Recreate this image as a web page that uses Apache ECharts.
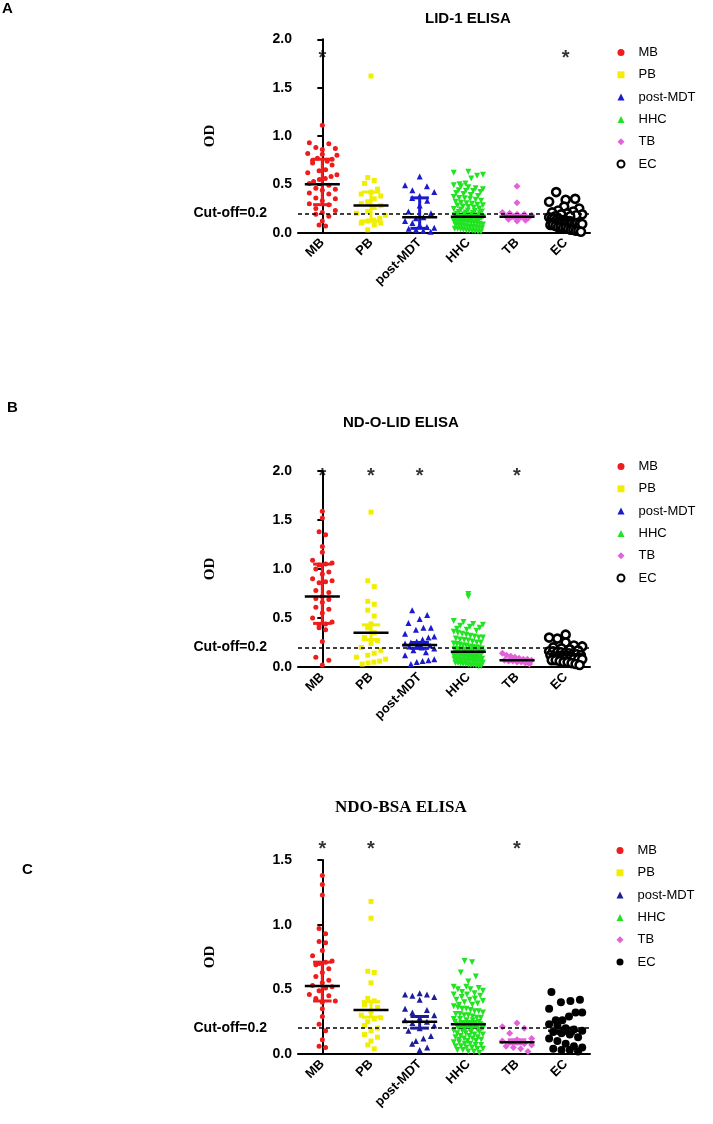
<!DOCTYPE html>
<html>
<head>
<meta charset="utf-8">
<script src="https://cdn.jsdelivr.net/npm/echarts@6/dist/echarts.min.js"></script>
<style>
html,body{margin:0;padding:0;background:#fff;}
#chart{width:713px;height:1124px;}
</style>
</head>
<body>
<div id="chart"></div>
<script>
// ---------------- data ----------------
const categories = ['MB', 'PB', 'post-MDT', 'HHC', 'TB', 'EC'];
const cutoff = 0.2;

// Panel A : LID-1 ELISA
const lidMB = [1.11,0.93,0.92,0.88,0.87,0.86,0.82,0.81,0.80,0.77,0.76,0.75,0.74,0.72,0.70,0.65,0.64,0.62,0.60,0.58,0.56,0.55,0.53,0.51,0.49,0.46,0.45,0.44,0.41,0.40,0.36,0.35,0.33,0.30,0.29,0.25,0.23,0.21,0.19,0.17,0.12,0.08,0.07];
const lidPB = [1.62,0.57,0.54,0.51,0.45,0.42,0.40,0.38,0.35,0.32,0.30,0.28,0.26,0.22,0.20,0.18,0.15,0.13,0.12,0.11,0.10,0.10,0.08,0.03];
const lidPost = [0.58,0.49,0.48,0.44,0.42,0.38,0.36,0.33,0.28,0.22,0.20,0.16,0.15,0.12,0.10,0.08,0.06,0.05,0.04,0.03,0.02,0.01];
const lidHHC = [0.63,0.62,0.60,0.59,0.56,0.51,0.50,0.49,0.48,0.47,0.46,0.45,0.44,0.435,0.43,0.42,0.41,0.40,0.39,0.38,0.37,0.36,0.355,0.35,0.34,0.33,0.32,0.31,0.305,0.30,0.29,0.285,0.28,0.27,0.265,0.26,0.25,0.245,0.24,0.23,0.225,0.22,0.215,0.21,0.205,0.20,0.195,0.19,0.185,0.18,0.18,0.175,0.17,0.17,0.165,0.16,0.16,0.155,0.15,0.15,0.145,0.14,0.14,0.135,0.13,0.13,0.125,0.12,0.12,0.115,0.11,0.11,0.105,0.10,0.10,0.095,0.09,0.085,0.08,0.08,0.075,0.07,0.065,0.06,0.06,0.055,0.05,0.045,0.04,0.04,0.035,0.03,0.025,0.02,0.02,0.015,0.01,0.01];
const lidTB = [0.48,0.31,0.21,0.20,0.19,0.19,0.18,0.17,0.17,0.16,0.15,0.14,0.13,0.12];
const lidEC = [0.42,0.35,0.34,0.32,0.27,0.25,0.23,0.22,0.21,0.20,0.19,0.19,0.18,0.17,0.17,0.16,0.15,0.15,0.14,0.14,0.13,0.13,0.12,0.12,0.11,0.10,0.10,0.09,0.09,0.08,0.08,0.07,0.06,0.06,0.05,0.05,0.04,0.03,0.03,0.02,0.02,0.01];
const lidMedian = [0.50, 0.28, 0.16, 0.165, 0.165, 0.14];
const lidLow    = [0.29, 0.12, 0.045, 0.15, 0.15, 0.13];
const lidHigh   = [0.76, 0.42, 0.36, 0.18, 0.18, 0.15];
const lidStars  = ['MB', 'EC'];

// Panel B : ND-O-LID ELISA
const ndoMB = [1.59,1.52,1.38,1.35,1.23,1.17,1.09,1.06,1.05,1.04,1.00,0.97,0.95,0.90,0.88,0.87,0.86,0.78,0.76,0.72,0.70,0.69,0.66,0.61,0.59,0.55,0.50,0.46,0.44,0.43,0.40,0.38,0.26,0.10,0.07,0.02];
const ndoPB = [1.58,0.88,0.82,0.67,0.64,0.58,0.52,0.44,0.40,0.35,0.30,0.27,0.24,0.20,0.17,0.14,0.12,0.10,0.08,0.06,0.05,0.04,0.03];
const ndoPost = [0.58,0.53,0.49,0.45,0.40,0.40,0.38,0.34,0.31,0.30,0.28,0.26,0.25,0.24,0.23,0.22,0.21,0.20,0.19,0.17,0.15,0.12,0.08,0.07,0.06,0.05,0.03];
const ndoHHC = [0.745,0.72,0.47,0.46,0.44,0.43,0.42,0.41,0.40,0.39,0.38,0.37,0.36,0.35,0.34,0.33,0.32,0.31,0.30,0.30,0.29,0.28,0.275,0.27,0.26,0.25,0.25,0.24,0.235,0.23,0.22,0.22,0.21,0.205,0.20,0.20,0.19,0.185,0.18,0.18,0.175,0.17,0.17,0.165,0.16,0.16,0.155,0.15,0.15,0.145,0.14,0.14,0.135,0.13,0.13,0.125,0.12,0.12,0.115,0.11,0.11,0.105,0.10,0.10,0.095,0.09,0.09,0.085,0.08,0.08,0.075,0.07,0.07,0.065,0.06,0.06,0.055,0.05,0.05,0.045,0.04,0.04,0.035,0.03,0.03,0.025,0.02,0.02,0.015,0.01,0.01];
const ndoTB = [0.14,0.12,0.11,0.10,0.09,0.08,0.08,0.07,0.07,0.06,0.06,0.05,0.05,0.04,0.03];
const ndoEC = [0.33,0.30,0.29,0.25,0.22,0.21,0.20,0.19,0.18,0.17,0.16,0.16,0.15,0.15,0.14,0.14,0.13,0.13,0.12,0.12,0.11,0.11,0.10,0.10,0.09,0.09,0.08,0.08,0.07,0.07,0.06,0.05,0.05,0.04,0.03,0.02];
const ndoMedian = [0.72, 0.35, 0.225, 0.156, 0.07, 0.13];
const ndoLow    = [0.445, 0.28, 0.19, 0.14, 0.06, 0.12];
const ndoHigh   = [1.05, 0.43, 0.25, 0.17, 0.08, 0.15];
const ndoStars  = ['MB', 'PB', 'post-MDT', 'TB'];

// Panel C : NDO-BSA ELISA
const bsaMB = [1.38,1.31,1.23,0.97,0.93,0.87,0.86,0.80,0.76,0.72,0.71,0.70,0.69,0.66,0.63,0.60,0.57,0.55,0.53,0.52,0.51,0.49,0.46,0.45,0.43,0.41,0.40,0.35,0.29,0.23,0.18,0.11,0.06,0.05];
const bsaPB = [1.18,1.05,0.64,0.63,0.55,0.43,0.41,0.38,0.36,0.33,0.30,0.28,0.27,0.25,0.22,0.20,0.18,0.15,0.13,0.10,0.07,0.04];
const bsaPost = [0.47,0.46,0.46,0.45,0.44,0.42,0.35,0.34,0.32,0.30,0.28,0.26,0.25,0.24,0.22,0.20,0.18,0.14,0.12,0.10,0.08,0.05,0.03];
const bsaHHC = [0.72,0.71,0.63,0.60,0.56,0.52,0.52,0.51,0.50,0.50,0.49,0.48,0.47,0.46,0.46,0.45,0.44,0.43,0.42,0.42,0.41,0.40,0.39,0.38,0.38,0.37,0.36,0.35,0.35,0.34,0.33,0.33,0.32,0.31,0.31,0.30,0.30,0.29,0.28,0.28,0.27,0.27,0.26,0.26,0.25,0.25,0.24,0.24,0.24,0.23,0.23,0.23,0.22,0.22,0.22,0.21,0.21,0.21,0.20,0.20,0.20,0.19,0.19,0.19,0.18,0.18,0.17,0.17,0.16,0.16,0.15,0.15,0.14,0.14,0.13,0.13,0.12,0.12,0.11,0.11,0.10,0.10,0.09,0.09,0.08,0.08,0.07,0.07,0.06,0.06,0.05,0.05,0.04,0.04,0.03,0.03,0.02,0.02,0.01];
const bsaTB = [0.24,0.21,0.20,0.16,0.12,0.11,0.10,0.09,0.09,0.08,0.07,0.06,0.05,0.04,0.02];
const bsaEC = [0.48,0.42,0.41,0.40,0.35,0.32,0.32,0.29,0.26,0.26,0.23,0.22,0.20,0.19,0.18,0.17,0.16,0.15,0.13,0.12,0.10,0.08,0.06,0.05,0.04,0.03,0.03,0.02];
const bsaMedian = [0.525, 0.34, 0.25, 0.23, 0.09, 0.18];
const bsaLow    = [0.41, 0.285, 0.20, 0.21, 0.08, 0.16];
const bsaHigh   = [0.71, 0.405, 0.29, 0.25, 0.11, 0.20];
const bsaStars  = ['MB', 'PB', 'TB'];

// ---------------- layout & style ----------------
const SANS = 'Liberation Sans, Arial, sans-serif';
const SERIF = 'Liberation Serif, Times New Roman, serif';
const GRID_LEFT = 298, GRID_WIDTH = 292;

const panels = [
  { key: 'A', title: 'LID-1 ELISA', titleFont: SANS, titleSize: 15, titleLeft: 425, titleTop: 11,
    top: 39.3, height: 193.4, ymax: 2, starY: 1.80, legendTop: 45,
    letterX: 2, letterY: 1, ecRing: true, postColor: '#1a1ad0',
    groups: [lidMB, lidPB, lidPost, lidHHC, lidTB, lidEC],
    median: lidMedian, low: lidLow, high: lidHigh, stars: lidStars },
  { key: 'B', title: 'ND-O-LID ELISA', titleFont: SANS, titleSize: 15, titleLeft: 343, titleTop: 415,
    top: 471, height: 196, ymax: 2, starY: 1.94, legendTop: 459,
    letterX: 7, letterY: 400, ecRing: true, postColor: '#1a1ad0',
    groups: [ndoMB, ndoPB, ndoPost, ndoHHC, ndoTB, ndoEC],
    median: ndoMedian, low: ndoLow, high: ndoHigh, stars: ndoStars },
  { key: 'C', title: 'NDO-BSA ELISA', titleFont: SERIF, titleSize: 17, titleLeft: 335, titleTop: 799,
    top: 860, height: 194, ymax: 1.5, starY: 1.585, legendTop: 843,
    letterX: 22, letterY: 862, ecRing: false, postColor: '#1c1c9c',
    groups: [bsaMB, bsaPB, bsaPost, bsaHHC, bsaTB, bsaEC],
    median: bsaMedian, low: bsaLow, high: bsaHigh, stars: bsaStars }
];

const baseColors = ['#ee1c1c', '#f2ee00', '#1a1ad0', '#22e322', '#e063d8', '#000000'];
const symbols = ['circle', 'rect', 'triangle', 'triangle', 'diamond', 'circle'];
const rotations = [0, 0, 0, 180, 0, 0];
const sizes = [5, 5, 6, 6, 7, 8];

function gcd(a, b) { return b ? gcd(b, a % b) : a; }

// beeswarm-style horizontal spreading computed from the values
function swarm(vals, binVal, dx, maxHalf) {
  const bins = new Map();
  vals.forEach(v => {
    const b = Math.floor(v / binVal);
    if (!bins.has(b)) bins.set(b, []);
    bins.get(b).push(v);
  });
  const out = [];
  bins.forEach(arr => {
    const n = arr.length;
    let step = dx;
    if (n > 1 && (n - 1) / 2 * step > maxHalf) step = maxHalf * 2 / (n - 1);
    const perm = [3, 2, 5, 7, 11].find(s => gcd(s, n) === 1) || 1;
    arr.forEach((v, k) => {
      const slot = (k * perm) % n;
      out.push([(slot - (n - 1) / 2) * step, v]);
    });
  });
  return out;
}

const option = {
  animation: false,
  backgroundColor: '#fff',
  title: [], grid: [], xAxis: [], yAxis: [], legend: [], series: [], graphic: []
};

panels.forEach((p, g) => {
  const colors = baseColors.slice();
  colors[2] = p.postColor;
  const pxPerUnit = p.height / p.ymax;
  const pxPerCat = GRID_WIDTH / categories.length;

  option.title.push({
    text: p.title, left: p.titleLeft, top: p.titleTop, padding: 0,
    textStyle: { fontFamily: p.titleFont, fontSize: p.titleSize, fontWeight: 'bold', color: '#000' }
  });
  option.graphic.push({
    type: 'text', left: p.letterX, top: p.letterY,
    style: { text: p.key, font: 'bold 15px ' + SANS, fill: '#000' }
  });
  option.grid.push({ left: GRID_LEFT, top: p.top, width: GRID_WIDTH, height: p.height, containLabel: false });

  option.xAxis.push({
    type: 'category', gridIndex: g, data: categories, boundaryGap: true,
    axisLine: { lineStyle: { color: '#000', width: 2 } },
    axisTick: { alignWithLabel: true, length: 5, lineStyle: { color: '#000', width: 1.5 } },
    axisLabel: { rotate: 45, margin: 8, color: '#000', fontFamily: SANS, fontSize: 13, fontWeight: 'bold', interval: 0 },
    splitLine: { show: false }
  });
  option.xAxis.push({ type: 'value', gridIndex: g, min: -0.5, max: 5.5, show: false });

  option.yAxis.push({
    type: 'value', gridIndex: g, min: 0, max: p.ymax, interval: 0.5,
    name: 'OD', nameLocation: 'middle', nameRotate: 90, nameGap: 80,
    nameTextStyle: { fontFamily: SERIF, fontSize: 15, fontWeight: 'bold', color: '#000' },
    axisLine: { show: true, lineStyle: { color: '#000', width: 2 } },
    axisTick: { show: true, length: 5, lineStyle: { color: '#000', width: 2 } },
    axisLabel: { margin: 6, color: '#000', fontFamily: SANS, fontSize: 14, fontWeight: 'bold',
      formatter: v => v.toFixed(1) },
    splitLine: { show: false }
  });

  const names = categories.map(c => p.key + '|' + c);
  option.legend.push({
    orient: 'vertical', left: 616.5, top: p.legendTop, padding: 0, itemGap: 7.3,
    itemWidth: 7, itemHeight: 7, selectedMode: false,
    data: names, formatter: n => n.split('|')[1],
    textStyle: { fontFamily: SANS, fontSize: 13, color: '#000', lineHeight: 15, padding: [0, 0, 0, 9] }
  });

  p.groups.forEach((vals, i) => {
    const size = sizes[i];
    const binVal = 2 * size / pxPerUnit;
    const dx = (size + 1.5) / pxPerCat;
    const maxHalf = i === 5 ? 0.34 : 0.3;
    const pts = swarm(vals, binVal, dx, maxHalf).map(d => [i + d[0], d[1]]);
    const isEC = i === 5;
    const itemStyle = (isEC && p.ecRing)
      ? { color: '#fff', borderColor: '#000', borderWidth: 2.6, opacity: 1 }
      : { color: colors[i], opacity: 1 };
    option.series.push({
      type: 'scatter', name: names[i], xAxisIndex: 2 * g + 1, yAxisIndex: g,
      symbol: symbols[i], symbolRotate: rotations[i], symbolSize: size,
      itemStyle: itemStyle, data: pts, z: 2, clip: false,
      emphasis: { disabled: true }
    });
  });

  // median + error bars
  const barData = categories.map((c, i) => [i, p.median[i], p.low[i], p.high[i]]);
  option.series.push({
    type: 'custom', xAxisIndex: 2 * g + 1, yAxisIndex: g, z: 5, clip: false,
    data: barData,
    renderItem: (params, api) => {
      const i = api.value(0);
      const c = api.coord([i, api.value(1)]);
      const lo = api.coord([i, api.value(2)]);
      const hi = api.coord([i, api.value(3)]);
      const unit = api.size([1, 0])[0];
      const capW = unit * 0.19, medW = unit * 0.36;
      const col = colors[i];
      return {
        type: 'group', children: [
          { type: 'line', shape: { x1: c[0], y1: hi[1], x2: c[0], y2: lo[1] }, style: { stroke: col, lineWidth: 3 } },
          { type: 'line', shape: { x1: c[0] - capW, y1: hi[1], x2: c[0] + capW, y2: hi[1] }, style: { stroke: col, lineWidth: 3 } },
          { type: 'line', shape: { x1: c[0] - capW, y1: lo[1], x2: c[0] + capW, y2: lo[1] }, style: { stroke: col, lineWidth: 3 } },
          { type: 'line', shape: { x1: c[0] - medW, y1: c[1], x2: c[0] + medW, y2: c[1] }, style: { stroke: '#000', lineWidth: 2.5 } }
        ]
      };
    }
  });

  // significance stars + cut-off line
  option.series.push({
    type: 'scatter', xAxisIndex: 2 * g + 1, yAxisIndex: g, z: 6, clip: false,
    symbolSize: 1, itemStyle: { color: 'rgba(0,0,0,0)' },
    data: p.stars.map(s => [categories.indexOf(s), p.starY]),
    label: { show: true, position: 'inside', formatter: '*', color: '#000',
      fontFamily: SANS, fontSize: 20, fontWeight: 'bold' },
    emphasis: { disabled: true },
    markLine: {
      silent: true, symbol: 'none', animation: false,
      data: [{ yAxis: cutoff }],
      lineStyle: { color: '#000', type: [4, 3], width: 1.6 },
      label: { position: 'start', distance: 31, formatter: 'Cut-off=' + cutoff,
        color: '#000', fontFamily: SANS, fontSize: 14, fontWeight: 'bold' },
      emphasis: { disabled: true }
    }
  });
});

const chart = echarts.init(document.getElementById('chart'), null, { renderer: 'canvas' });
chart.setOption(option);
</script>
</body>
</html>
